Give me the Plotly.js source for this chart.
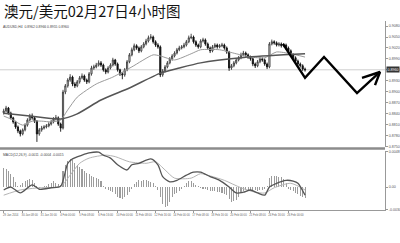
<!DOCTYPE html>
<html>
<head>
<meta charset="utf-8">
<script src="https://cdn.plot.ly/plotly-3.0.1.min.js"></script>
<style>
  html, body { margin: 0; padding: 0; background: #fff; }
  #chart { width: 400px; height: 243px; }
</style>
</head>
<body>
<div id="chart"></div>
<script>
// AUD/USD, 4-hour bars from 29 Jan to 27 Feb 2014
const open = [0.8842,0.8847,0.8855,0.8841,0.8828,0.8817,0.8803,0.8792,0.8784,0.8795,0.8808,0.8822,0.8833,0.8828,0.8819,0.8784,0.8795,0.8800,0.8803,0.8806,0.8811,0.8817,0.8825,0.8828,0.8811,0.8800,0.8899,0.8916,0.8932,0.8940,0.8921,0.8916,0.8927,0.8938,0.8943,0.8932,0.8927,0.8949,0.8965,0.8968,0.8973,0.8979,0.8973,0.8960,0.8954,0.8965,0.8973,0.8987,0.8976,0.8960,0.8949,0.8946,0.8960,0.8982,0.9001,0.9015,0.9026,0.9020,0.9012,0.9023,0.9031,0.9039,0.9048,0.9050,0.9037,0.9028,0.9023,0.8946,0.8957,0.8968,0.8979,0.8990,0.8998,0.9006,0.9015,0.9020,0.9023,0.9028,0.9037,0.9048,0.9050,0.9037,0.9028,0.9023,0.9039,0.9042,0.9031,0.9020,0.9012,0.9023,0.9028,0.9023,0.9026,0.9028,0.9020,0.9009,0.8965,0.8971,0.8979,0.8987,0.8993,0.9001,0.9006,0.9001,0.8995,0.8990,0.8976,0.8971,0.8982,0.8990,0.8987,0.8976,0.8968,0.9031,0.9037,0.9034,0.9028,0.9031,0.9026,0.9028,0.9020,0.9012,0.9001,0.8993,0.8984,0.8976,0.8971,0.8962];
const high = [0.8853,0.8861,0.8858,0.8845,0.8831,0.8820,0.8807,0.8796,0.8799,0.8813,0.8827,0.8839,0.8840,0.8832,0.8822,0.8800,0.8806,0.8808,0.8811,0.8816,0.8822,0.8830,0.8836,0.8832,0.8815,0.8905,0.8921,0.8937,0.8948,0.8944,0.8926,0.8932,0.8943,0.8950,0.8947,0.8936,0.8954,0.8971,0.8974,0.8979,0.8986,0.8984,0.8977,0.8964,0.8970,0.8978,0.8993,0.8990,0.8980,0.8963,0.8953,0.8965,0.8987,0.9006,0.9021,0.9032,0.9030,0.9024,0.9028,0.9036,0.9045,0.9054,0.9058,0.9054,0.9041,0.9033,0.9027,0.8962,0.8973,0.8984,0.8995,0.9003,0.9011,0.9020,0.9026,0.9028,0.9034,0.9042,0.9054,0.9059,0.9054,0.9041,0.9032,0.9044,0.9048,0.9046,0.9035,0.9024,0.9028,0.9033,0.9032,0.9031,0.9034,0.9032,0.9024,0.9012,0.8976,0.8984,0.8992,0.8998,0.9007,0.9012,0.9010,0.9005,0.8999,0.8993,0.8980,0.8987,0.8995,0.8994,0.8991,0.8980,0.9036,0.9043,0.9041,0.9038,0.9036,0.9035,0.9033,0.9032,0.9024,0.9016,0.9005,0.8997,0.8988,0.8980,0.8975,0.8966];
const low = [0.8837,0.8843,0.8837,0.8824,0.8812,0.8798,0.8786,0.8777,0.8780,0.8791,0.8804,0.8818,0.8823,0.8814,0.8762,0.8779,0.8790,0.8796,0.8799,0.8802,0.8807,0.8813,0.8821,0.8806,0.8790,0.8796,0.8893,0.8911,0.8927,0.8915,0.8910,0.8912,0.8922,0.8934,0.8927,0.8921,0.8923,0.8944,0.8960,0.8964,0.8969,0.8968,0.8955,0.8948,0.8950,0.8961,0.8969,0.8971,0.8955,0.8943,0.8934,0.8941,0.8956,0.8978,0.8997,0.9011,0.9015,0.9006,0.9008,0.9019,0.9027,0.9035,0.9043,0.9032,0.9023,0.9018,0.8940,0.8941,0.8953,0.8964,0.8975,0.8985,0.8994,0.9002,0.9011,0.9016,0.9019,0.9024,0.9033,0.9044,0.9032,0.9023,0.9018,0.9019,0.9035,0.9026,0.9015,0.9006,0.9008,0.9019,0.9018,0.9019,0.9022,0.9015,0.9004,0.8957,0.8960,0.8967,0.8975,0.8983,0.8989,0.8997,0.8996,0.8990,0.8985,0.8970,0.8965,0.8967,0.8978,0.8982,0.8971,0.8962,0.8964,0.9027,0.9029,0.9024,0.9024,0.9021,0.9022,0.9015,0.9007,0.8996,0.8988,0.8979,0.8970,0.8966,0.8957,0.8955];
const close = [0.8847,0.8855,0.8841,0.8828,0.8817,0.8803,0.8792,0.8784,0.8795,0.8808,0.8822,0.8833,0.8828,0.8819,0.8784,0.8795,0.8800,0.8803,0.8806,0.8811,0.8817,0.8825,0.8828,0.8811,0.8800,0.8899,0.8916,0.8932,0.8940,0.8921,0.8916,0.8927,0.8938,0.8943,0.8932,0.8927,0.8949,0.8965,0.8968,0.8973,0.8979,0.8973,0.8960,0.8954,0.8965,0.8973,0.8987,0.8976,0.8960,0.8949,0.8946,0.8960,0.8982,0.9001,0.9015,0.9026,0.9020,0.9012,0.9023,0.9031,0.9039,0.9048,0.9050,0.9037,0.9028,0.9023,0.8946,0.8957,0.8968,0.8979,0.8990,0.8998,0.9006,0.9015,0.9020,0.9023,0.9028,0.9037,0.9048,0.9050,0.9037,0.9028,0.9023,0.9039,0.9042,0.9031,0.9020,0.9012,0.9023,0.9028,0.9023,0.9026,0.9028,0.9020,0.9009,0.8965,0.8971,0.8979,0.8987,0.8993,0.9001,0.9006,0.9001,0.8995,0.8990,0.8976,0.8971,0.8982,0.8990,0.8987,0.8976,0.8968,0.9031,0.9037,0.9034,0.9028,0.9031,0.9026,0.9028,0.9020,0.9012,0.9001,0.8993,0.8984,0.8976,0.8971,0.8962,0.8960];

// moving averages, sampled at bar numbers
const fastMaBar = [0,4,8,12,16,20,24,27,31,39,46,54,63,66,72,79,83,91,98,104,110,115,121,127];
const fastMa = [0.8833,0.8822,0.8808,0.8819,0.8819,0.8817,0.8822,0.8850,0.8885,0.8921,0.8940,0.8968,0.9001,0.8998,0.8987,0.9004,0.9015,0.9015,0.9004,0.8995,0.8993,0.9009,0.9004,0.8995];
const slowMaBar = [0,11,24,31,41,53,66,74,83,100,118,127];
const slowMa = [0.8841,0.8833,0.8825,0.8839,0.8877,0.8910,0.8951,0.8965,0.8979,0.8993,0.9001,0.9004];

// MACD(12,26,9)
const macdBar = [0,3,7,12,15,20,24,27,29,33,36,40,42,45,48,52,54,57,62,65,67,70,73,77,80,83,87,91,95,98,101,104,107,110,112,115,119,122,124,127];
const macdMain = [-0.0004,0,-0.0008,0.0003,-0.0003,-0.0001,0.0001,0.0032,0.0038,0.0043,0.0046,0.0047,0.0043,0.0039,0.0030,0.0023,0.0030,0.0032,0.0038,0.0030,0.0014,0.0007,0.0009,0.0016,0.0020,0.0020,0.0014,0.0009,0,-0.0008,-0.0007,-0.0004,-0.0008,-0.0011,0,0.0005,0.0009,0.0008,0.0005,-0.0011];
const signalBar = [0,7,15,24,28,32,36,43,47,53,60,64,68,72,79,83,87,93,100,106,110,114,121,127];
const macdSignal = [-0.0011,-0.0004,-0.0001,0.0001,0.0016,0.0032,0.0039,0.0043,0.0041,0.0034,0.0032,0.0034,0.0023,0.0012,0.0012,0.0018,0.0015,0.0009,-0.0001,-0.0007,-0.0008,-0.0001,0.0005,-0.0004];
const macdHist = [0.0026,0.0024,0.0022,0.0018,0.0013,0.0007,0.0002,0.0003,0.0006,0.0008,0.0010,0.0011,0.0009,0.0005,0.0001,-0.0001,0.0000,0.0001,0.0002,0.0004,0.0006,0.0008,0.0006,0.0004,0.0003,0.0022,0.0030,0.0035,0.0038,0.0036,0.0033,0.0030,0.0027,0.0024,0.0021,0.0019,0.0017,0.0015,0.0013,0.0012,0.0011,0.0008,0.0002,-0.0002,-0.0004,-0.0005,-0.0007,-0.0010,-0.0013,-0.0015,-0.0016,-0.0014,-0.0011,-0.0007,-0.0002,0.0004,0.0007,0.0009,0.0008,0.0009,0.0009,0.0008,0.0007,0.0005,0.0002,-0.0004,-0.0014,-0.0023,-0.0027,-0.0025,-0.0020,-0.0014,-0.0010,-0.0008,-0.0005,-0.0003,0.0002,0.0006,0.0008,0.0008,0.0006,0.0003,0.0001,-0.0001,-0.0002,-0.0003,-0.0004,-0.0005,-0.0006,-0.0006,-0.0007,-0.0007,-0.0008,-0.0009,-0.0011,-0.0016,-0.0020,-0.0019,-0.0017,-0.0013,-0.0008,-0.0005,-0.0004,-0.0004,-0.0005,-0.0004,-0.0004,-0.0005,-0.0004,-0.0004,-0.0003,0.0002,0.0012,0.0015,0.0015,0.0015,0.0014,0.0013,0.0011,0.0006,-0.0002,-0.0004,-0.0006,-0.0008,-0.0010,-0.0012,-0.0014,-0.0015];

// projected path drawn to the right of the last bar
const pathBar = [117.7,127.0,135.0,148.9,158.6];
const pathPrice = [0.9031,0.8938,0.8995,0.8896,0.8954];
const headBar = [151.0,158.6,156.5];
const headPrice = [0.8938,0.8954,0.8918];

// axis labels
const timeTickBar = [0,8,16,24,32,40,48,56,64,72,80,88,96,104,112,120];
const timeTickText = ['29 Jan 2014','30 Jan 08:00','31 Jan 16:00','4 Feb 00:00','5 Feb 08:00','6 Feb 16:00','10 Feb 00:00','11 Feb 08:00','12 Feb 16:00','14 Feb 00:00','17 Feb 08:00','18 Feb 16:00','20 Feb 00:00','21 Feb 08:00','24 Feb 16:00','26 Feb 00:00'];
const priceTicks = [0.9080,0.9050,0.9020,0.8990,0.8960,0.8930,0.8900,0.8870,0.8840,0.8810,0.8780,0.8750];
const macdTicks = [0.0048,0,-0.0030];
const macdTickText = ['0.0048','0.00','-0.0030'];

const chartTitle = '澳元/美元02月27日4小时图';

const bars = close.map((_, i) => i);
const n = close.length - 1;
const lastClose = close[n];
const f4 = v => v.toFixed(4);

const traces = [
  {
    type: 'candlestick', x: bars, open: open, high: high, low: low, close: close,
    xaxis: 'x', yaxis: 'y', hoverinfo: 'skip',
    increasing: { line: { color: '#3a3a3a', width: 0.9 }, fillcolor: '#ffffff' },
    decreasing: { line: { color: '#111111', width: 0.9 }, fillcolor: '#111111' },
    whiskerwidth: 0
  },
  { type: 'scatter', mode: 'lines', x: fastMaBar, y: fastMa, xaxis: 'x', yaxis: 'y',
    line: { color: '#9a9a9a', width: 1, shape: 'spline', smoothing: 0.6 }, hoverinfo: 'skip' },
  { type: 'scatter', mode: 'lines', x: slowMaBar, y: slowMa, xaxis: 'x', yaxis: 'y',
    line: { color: '#555555', width: 1.5, shape: 'spline', smoothing: 0.6 }, hoverinfo: 'skip' },
  { type: 'scatter', mode: 'lines', x: pathBar, y: pathPrice, xaxis: 'x', yaxis: 'y',
    line: { color: '#000000', width: 2.4 }, hoverinfo: 'skip' },
  { type: 'scatter', mode: 'lines', x: headBar, y: headPrice, xaxis: 'x', yaxis: 'y',
    line: { color: '#000000', width: 2.4 }, hoverinfo: 'skip' },
  { type: 'bar', x: bars, y: macdHist, xaxis: 'x', yaxis: 'y2', width: 0.45,
    marker: { color: '#9c9c9c', line: { width: 0 } }, hoverinfo: 'skip' },
  { type: 'scatter', mode: 'lines', x: signalBar, y: macdSignal, xaxis: 'x', yaxis: 'y2',
    line: { color: '#b4b4b4', width: 1, shape: 'spline', smoothing: 0.7 }, hoverinfo: 'skip' },
  { type: 'scatter', mode: 'lines', x: macdBar, y: macdMain, xaxis: 'x', yaxis: 'y2',
    line: { color: '#555555', width: 1.3, shape: 'spline', smoothing: 0.7 }, hoverinfo: 'skip' }
];

const smallFont = { family: 'Liberation Sans, Arial, sans-serif', size: 3.6, color: '#555' };

const layout = {
  width: 400, height: 243,
  margin: { l: 0, r: 15, t: 21, b: 33 },
  paper_bgcolor: '#ffffff', plot_bgcolor: '#ffffff',
  showlegend: false, bargap: 0,
  xaxis: {
    range: [-1.56, 160.7], anchor: 'y2', fixedrange: true,
    tickmode: 'array', tickvals: timeTickBar, ticktext: timeTickText,
    tickfont: { family: 'Liberation Sans, Arial, sans-serif', size: 2.8, color: '#666' },
    ticks: 'outside', ticklen: 2, tickcolor: '#999', ticklabelshift: 7,
    showline: true, linecolor: '#999', linewidth: 1,
    showgrid: false, zeroline: false, rangeslider: { visible: false }
  },
  yaxis: {
    domain: [0.3333, 1], side: 'right', range: [0.8748, 0.9094], fixedrange: true,
    tickmode: 'array', tickvals: priceTicks, tickformat: '.4f', tickfont: smallFont,
    ticks: 'outside', ticklen: 2, tickcolor: '#999',
    showline: true, linecolor: '#999', linewidth: 1, showgrid: false, zeroline: false
  },
  yaxis2: {
    domain: [0, 0.3122], side: 'right', range: [-0.0031, 0.00486], fixedrange: true,
    tickmode: 'array', tickvals: macdTicks, ticktext: macdTickText, tickfont: smallFont,
    ticks: 'outside', ticklen: 2, tickcolor: '#999',
    showline: true, linecolor: '#999', linewidth: 1, showgrid: false, zeroline: false
  },
  shapes: [
    { type: 'line', xref: 'paper', x0: 0, x1: 1, yref: 'y', y0: lastClose, y1: lastClose,
      line: { color: '#cfcfcf', width: 1 }, layer: 'below' },
    { type: 'line', xref: 'paper', x0: 0, x1: 1, yref: 'paper', y0: 0.3254, y1: 0.3254,
      line: { color: '#8c8c8c', width: 2.5 } }
  ],
  annotations: [
    // chart heading above the price panel
    { xref: 'paper', x: 0.004, xanchor: 'left', yref: 'paper', y: 1, yanchor: 'middle', yshift: 11,
      text: chartTitle, showarrow: false,
      font: { family: 'Noto Sans CJK SC', size: 14.5, color: '#141414' } },
    { xref: 'paper', x: 1, xanchor: 'left', xshift: 1, yref: 'y', y: lastClose,
      text: f4(lastClose), showarrow: false, bgcolor: '#333333', borderpad: 0.6,
      font: { family: 'Liberation Sans, Arial, sans-serif', size: 3.6, color: '#ffffff' } },
    { xref: 'paper', x: 0.003, xanchor: 'left', yref: 'paper', y: 1, yanchor: 'top', yshift: -2,
      text: 'AUDUSD,H4  ' + [open[n], high[n], low[n], close[n]].map(f4).join(' '),
      showarrow: false, font: { family: 'Liberation Sans, Arial, sans-serif', size: 3.4, color: '#444' } },
    { xref: 'paper', x: 0.003, xanchor: 'left', yref: 'paper', y: 0.3122, yanchor: 'top', yshift: -0.5,
      text: 'MACD(12,26,9) ' + [macdMain[macdMain.length - 1], macdSignal[macdSignal.length - 1], macdHist[n]].map(f4).join(' '),
      showarrow: false, font: { family: 'Liberation Sans, Arial, sans-serif', size: 3.4, color: '#444' } }
  ]
};

Plotly.newPlot('chart', traces, layout, { staticPlot: true, displayModeBar: false });
</script>
</body>
</html>
